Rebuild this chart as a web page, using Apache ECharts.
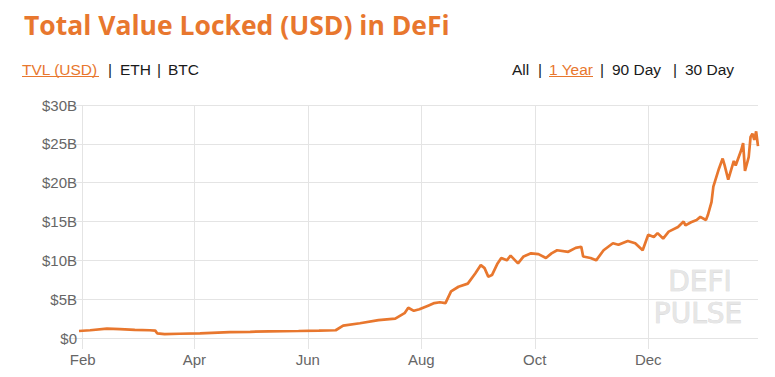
<!DOCTYPE html>
<html>
<head>
<meta charset="utf-8">
<script src="https://cdn.jsdelivr.net/npm/echarts@6/dist/echarts.min.js"></script>
<style>
  html, body {margin: 0; padding: 0; background: #fff;}
  #chart {width: 775px; height: 377px;}
</style>
</head>
<body>
<div id="chart"></div>
<script>
// TVL in DeFi, one year window (values in billions of USD)
var dates = [
  '2020-01-30', '2020-02-05', '2020-02-14', '2020-02-21', '2020-02-29', '2020-03-08',
  '2020-03-11', '2020-03-12', '2020-03-16', '2020-03-24', '2020-04-04', '2020-04-20',
  '2020-05-01', '2020-05-11', '2020-05-27', '2020-06-07', '2020-06-16', '2020-06-20',
  '2020-06-29', '2020-07-09', '2020-07-18', '2020-07-23', '2020-07-25', '2020-07-28',
  '2020-07-31', '2020-08-05', '2020-08-08', '2020-08-11', '2020-08-14', '2020-08-17',
  '2020-08-21', '2020-08-26', '2020-08-30', '2020-09-02', '2020-09-04', '2020-09-06',
  '2020-09-08', '2020-09-11', '2020-09-13', '2020-09-16', '2020-09-18', '2020-09-22',
  '2020-09-25', '2020-09-29', '2020-10-03', '2020-10-07', '2020-10-10', '2020-10-13',
  '2020-10-19', '2020-10-23', '2020-10-26', '2020-10-27', '2020-10-31', '2020-11-03',
  '2020-11-07', '2020-11-12', '2020-11-15', '2020-11-20', '2020-11-24', '2020-11-28',
  '2020-12-01', '2020-12-04', '2020-12-06', '2020-12-09', '2020-12-12', '2020-12-17',
  '2020-12-20', '2020-12-21', '2020-12-24', '2020-12-27', '2020-12-29', '2021-01-01',
  '2021-01-02', '2021-01-04', '2021-01-05', '2021-01-08', '2021-01-10', '2021-01-11',
  '2021-01-13', '2021-01-16', '2021-01-17', '2021-01-20', '2021-01-21', '2021-01-22',
  '2021-01-24', '2021-01-25', '2021-01-26', '2021-01-27', '2021-01-28', '2021-01-29'
];
var tvl = [
  0.9, 1.0, 1.2, 1.15, 1.05, 1.0,
  0.95, 0.6, 0.5, 0.55, 0.6, 0.75,
  0.8, 0.85, 0.9, 0.95, 1.0, 1.6,
  1.9, 2.3, 2.5, 3.2, 3.9, 3.5,
  3.7, 4.2, 4.5, 4.6, 4.5, 6.0,
  6.6, 7.0, 8.3, 9.4, 9.0, 7.9,
  8.1, 9.6, 10.3, 10.0, 10.6, 9.6,
  10.5, 10.9, 10.8, 10.3, 10.9, 11.3,
  11.1, 11.6, 11.75, 10.5, 10.3, 10.0,
  11.3, 12.2, 12.0, 12.5, 12.2, 11.3,
  13.3, 13.0, 13.5, 12.8, 13.7, 14.3,
  15.0, 14.5, 14.9, 15.2, 15.6, 15.2,
  15.8, 17.5, 19.5, 21.8, 23.1, 22.3,
  20.4, 22.8, 22.2, 24.2, 25.1, 21.5,
  23.3, 25.9, 26.3, 25.5, 26.6, 24.7
];
var monthTicks = ['2020-02-01', '2020-04-01', '2020-06-01', '2020-08-01', '2020-10-01', '2020-12-01'];
var monthNames = ['Jan', 'Feb', 'Mar', 'Apr', 'May', 'Jun', 'Jul', 'Aug', 'Sep', 'Oct', 'Nov', 'Dec'];
var unitLinks = ['TVL (USD)', 'ETH', 'BTC'];
var rangeLinks = ['All', '1 Year', '90 Day', '30 Day'];

function ts(s) {
  var p = s.split('-');
  return Date.UTC(+p[0], +p[1] - 1, +p[2]);
}

var orange = '#e8772e';
var grey = '#e4e4e4';
var seriesData = dates.map(function (d, i) { return [ts(d), tvl[i]]; });
var tickValues = monthTicks.map(ts);

// header link row: text pieces, separators and underlines for the active ones
function linkText(str, x, active) {
  return {
    type: 'text', x: x, y: 69,
    style: {text: str, verticalAlign: 'middle', fontSize: 15.5, fontFamily: 'Liberation Sans',
      fill: active ? orange : '#1a1a1a'}
  };
}
function sep(x) {
  return {
    type: 'text', x: x, y: 69,
    style: {text: '|', align: 'center', verticalAlign: 'middle', fontSize: 15.5,
      fontFamily: 'Liberation Sans', fill: '#1a1a1a'}
  };
}
function underline(x1, x2) {
  return {type: 'line', shape: {x1: x1, y1: 76.5, x2: x2, y2: 76.5}, style: {stroke: orange, lineWidth: 1}};
}

var myChart = echarts.init(document.getElementById('chart'), null, {renderer: 'svg'});
myChart.setOption({
  animation: false,
  backgroundColor: '#fff',
  textStyle: {fontFamily: 'Liberation Sans'},
  title: {
    text: 'Total Value Locked (USD) in DeFi',
    left: 19,
    top: 6,
    textStyle: {color: orange, fontSize: 26.5, fontWeight: 'bold', fontFamily: 'Open Sans'}
  },
  grid: {left: 79, right: 17, top: 105, bottom: 39},
  xAxis: {
    type: 'value',
    min: ts(dates[0]),
    max: ts(dates[dates.length - 1]),
    axisLine: {show: false},
    axisTick: {show: true, length: 11, customValues: tickValues, lineStyle: {color: grey}},
    splitLine: {show: true, lineStyle: {color: grey}},
    axisLabel: {
      customValues: tickValues,
      color: '#666',
      fontSize: 15,
      margin: 14,
      formatter: function (v) { return monthNames[new Date(v).getUTCMonth()]; }
    }
  },
  yAxis: {
    type: 'value',
    min: 0,
    max: 30,
    interval: 5,
    axisLine: {show: false},
    axisTick: {show: true, length: 13, lineStyle: {color: grey}},
    splitLine: {lineStyle: {color: grey}},
    axisLabel: {
      color: '#666',
      fontSize: 15,
      margin: 2,
      formatter: function (v) { return v === 0 ? '$0' : '$' + v + 'B'; }
    }
  },
  graphic: [
    linkText(unitLinks[0], 22, true), underline(22, 99),
    sep(110), linkText(unitLinks[1], 120, false),
    sep(159), linkText(unitLinks[2], 168, false),
    linkText(rangeLinks[0], 512, false),
    sep(540), linkText(rangeLinks[1], 549, true), underline(549, 593),
    sep(602), linkText(rangeLinks[2], 612, false),
    sep(675), linkText(rangeLinks[3], 685, false),
    {
      type: 'text', x: 700, y: 281, z: 1,
      style: {text: 'DEFI', align: 'center', verticalAlign: 'middle', fontSize: 28,
        fontFamily: 'DejaVu Sans', fill: '#e6e6e6', stroke: '#d2d2d2', lineWidth: 0.6}
    },
    {
      type: 'text', x: 698, y: 313, z: 1,
      style: {text: 'PULSE', align: 'center', verticalAlign: 'middle', fontSize: 28,
        fontFamily: 'DejaVu Sans', fill: '#e6e6e6', stroke: '#d2d2d2', lineWidth: 0.6}
    }
  ],
  series: [{
    name: 'TVL (USD)',
    type: 'line',
    data: seriesData,
    showSymbol: false,
    symbol: 'none',
    z: 5,
    lineStyle: {color: orange, width: 2.7}
  }]
});
</script>
</body>
</html>
